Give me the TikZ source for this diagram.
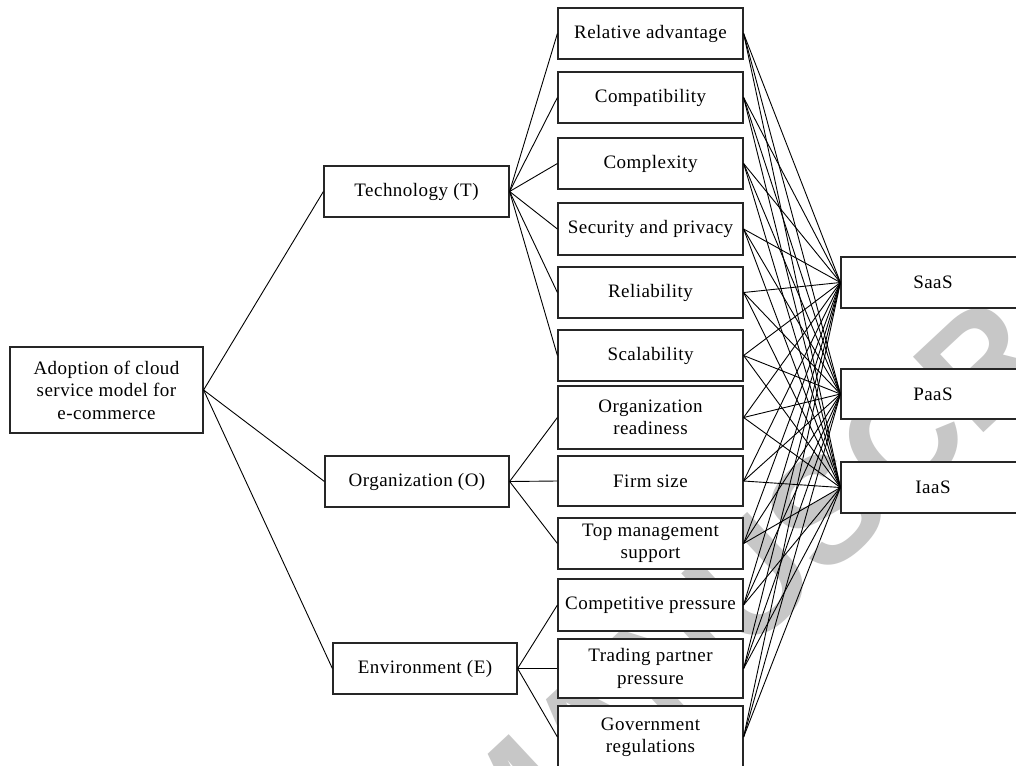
\documentclass[tikz,border=0pt]{standalone}
\usepackage{fontspec}
\setmainfont[LetterSpace=2.5]{Liberation Serif}
\newfontfamily\wmfont{Liberation Sans}
\begin{document}
\begin{tikzpicture}[x=1pt,y=-1pt,
  box/.style={draw=black!85, line width=1.2pt, fill=white, inner sep=0pt, align=center,
    font=\fontsize{19}{22.5}\selectfont},
  mid/.style={box, minimum width=185pt},
  link/.style={line width=0.9pt, black},
  wm/.style={text=black!22, font=\wmfont\bfseries\fontsize{150}{150}\selectfont}]
\clip (0,0) rectangle (1016,765);
\fill[white] (0,0) rectangle (1016,765);
% watermark
\node[wm, rotate=43] (wmark) at (826,510) {MANUSCRIPT};
% root and categories
\node[box, minimum width=193pt, minimum height=86pt] (root) at (106.5,390) {Adoption of cloud\\service model for\\e-commerce};
\node[box, minimum width=185pt, minimum height=51pt] (T) at (416.5,191.5) {Technology (T)};
\node[box, minimum width=184pt, minimum height=51pt] (O) at (417,481.5) {Organization (O)};
\node[box, minimum width=184pt, minimum height=51pt] (E) at (425,668.5) {Environment (E)};
% factors
\node[mid, minimum height=51pt] (ra) at (650.5,33.5) {Relative advantage};
\node[mid, minimum height=51pt] (cp) at (650.5,97.5) {Compatibility};
\node[mid, minimum height=51pt] (cx) at (650.5,163.5) {Complexity};
\node[mid, minimum height=52pt] (sp) at (650.5,229) {Security and privacy};
\node[mid, minimum height=51pt] (rl) at (650.5,292.5) {Reliability};
\node[mid, minimum height=51pt] (sc) at (650.5,355.5) {Scalability};
\node[mid, minimum height=63pt] (orr) at (650.5,417.5) {Organization\\readiness};
\node[mid, minimum height=50pt] (fs) at (650.5,481) {Firm size};
\node[mid, minimum height=51pt] (tm) at (650.5,543.5) {Top management\\support};
\node[mid, minimum height=52pt] (ce) at (650.5,605) {Competitive pressure};
\node[mid, minimum height=59pt] (tp) at (650.5,668.5) {Trading partner\\pressure};
\node[mid, minimum height=62pt] (gr) at (650.5,737) {Government\\regulations};
% service models
\node[box, minimum width=184pt, minimum height=51pt] (saas) at (933,282.5) {SaaS};
\node[box, minimum width=184pt, minimum height=50pt] (paas) at (933,394) {PaaS};
\node[box, minimum width=184pt, minimum height=51pt] (iaas) at (933,487.5) {IaaS};
% connectors
\foreach \c in {T,O,E} \draw[link] (root.east) -- (\c.west);
\foreach \f in {ra,cp,cx,sp,rl,sc} \draw[link] (T.east) -- (\f.west);
\foreach \f in {orr,fs,tm} \draw[link] (O.east) -- (\f.west);
\foreach \f in {ce,tp,gr} \draw[link] (E.east) -- (\f.west);
\foreach \f in {ra,cp,cx,sp,rl,sc,orr,fs,tm,ce,tp,gr}
  \foreach \s in {saas,paas,iaas}
    \draw[link] (\f.east) -- (\s.west);
\end{tikzpicture}
\end{document}
